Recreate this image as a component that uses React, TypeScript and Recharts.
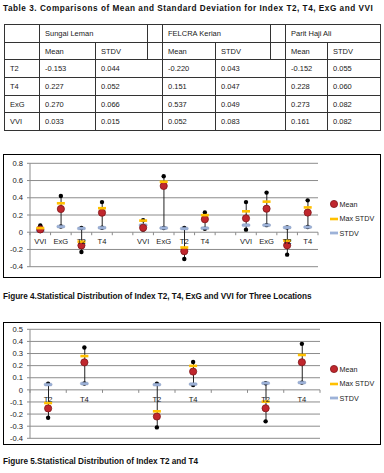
import {ComposedChart, Bar, Scatter, XAxis, YAxis, CartesianGrid, Legend} from "recharts";

const locations = ["Sungai Leman", "FELCRA Kerian", "Parit Haji Ali"];
const tableRows = ["T2", "T4", "ExG", "VVI"];
const meanSungaiLeman = [-0.153, 0.227, 0.27, 0.033];
const stdvSungaiLeman = [0.044, 0.052, 0.066, 0.015];
const meanFelcraKerian = [-0.22, 0.151, 0.537, 0.052];
const stdvFelcraKerian = [0.043, 0.047, 0.049, 0.083];
const meanParitHajiAli = [-0.152, 0.228, 0.273, 0.161];
const stdvParitHajiAli = [0.055, 0.06, 0.082, 0.082];

// figure 4: VVI, ExG, T2, T4 for each location, one empty slot between locations
const fig4Labels = ["VVI", "ExG", "T2", "T4", "", "VVI", "ExG", "T2", "T4", "", "VVI", "ExG", "T2", "T4"];
const fig4Mean = [0.033, 0.27, -0.153, 0.227, null, 0.052, 0.537, -0.22, 0.151, null, 0.161, 0.273, -0.152, 0.228];
const fig4MaxStdv = [0.048, 0.336, -0.109, 0.279, null, 0.135, 0.586, -0.177, 0.198, null, 0.243, 0.355, -0.097, 0.288];
const fig4Stdv = [0.015, 0.066, 0.044, 0.052, null, 0.083, 0.049, 0.043, 0.047, null, 0.082, 0.082, 0.055, 0.06];
const fig4High = [0.08, 0.42, 0.05, 0.35, null, 0.14, 0.65, 0.05, 0.23, null, 0.35, 0.46, 0.055, 0.37];
const fig4Low = [0.015, 0.066, -0.23, 0.052, null, 0.03, 0.049, -0.31, 0.04, null, 0.03, 0.082, -0.26, 0.06];
const fig4Ticks = [-0.4, -0.2, 0, 0.2, 0.4, 0.6, 0.8];

// figure 5: T2 and T4 only
const fig5Labels = ["T2", "T4", "", "T2", "T4", "", "T2", "T4"];
const fig5Mean = [-0.153, 0.227, null, -0.22, 0.151, null, -0.152, 0.228];
const fig5MaxStdv = [-0.109, 0.279, null, -0.177, 0.198, null, -0.097, 0.288];
const fig5Stdv = [0.044, 0.052, null, 0.043, 0.047, null, 0.055, 0.06];
const fig5High = [0.05, 0.35, null, 0.05, 0.23, null, 0.055, 0.38];
const fig5Low = [-0.23, 0.052, null, -0.31, 0.04, null, -0.26, 0.06];
const fig5Ticks = [-0.4, -0.3, -0.2, -0.1, 0, 0.1, 0.2, 0.3, 0.4, 0.5];

const FONT = "'Liberation Sans', Arial, sans-serif";
const RED = "#C0272D";
const YELLOW = "#FFC000";
const BLUE = "#9DB2D8";

const legendNames = ["Mean", "Max STDV", "STDV"];

function buildData(labels: string[], mean: any[], maxStdv: any[], stdv: any[], high: any[], low: any[]) {
  return labels.map((label, i) => ({
    slot: i,
    label: label,
    mean: mean[i],
    maxStdv: maxStdv[i],
    stdv: stdv[i],
    high: high[i],
    low: low[i],
    range: high[i] == null ? null : [low[i], high[i]],
  }));
}

function markerShape(key: string, kind: string) {
  return (p: any) => {
    if (p.payload == null || p.payload[key] == null) return <g />;
    if (kind == "mean")
      return <circle cx={p.cx} cy={p.cy} r={3.6} fill={RED} stroke="#7E1519" strokeWidth={0.8} />;
    if (kind == "dot") return <circle cx={p.cx} cy={p.cy} r={2.2} fill="#000" />;
    if (kind == "max") return <rect x={p.cx - 4} y={p.cy - 1.3} width={8} height={2.6} fill={YELLOW} />;
    return <rect x={p.cx - 4} y={p.cy - 1.4} width={8} height={2.8} rx={1.2} fill={BLUE} stroke="#7F93B8" strokeWidth={0.4} />;
  };
}

function legendIcon(name: string) {
  if (name == "Mean") return <circle cx={6} cy={5} r={3.6} fill={RED} stroke="#7E1519" strokeWidth={0.8} />;
  if (name == "Max STDV") return <rect x={2} y={3.7} width={8} height={2.6} fill={YELLOW} />;
  return <rect x={2} y={3.6} width={8} height={2.8} fill={BLUE} />;
}

function renderLegend() {
  return (
    <div style={{fontFamily: FONT, fontSize: 7.2, color: "#1a1a1a"}}>
      {legendNames.map((name) => (
        <div key={name} style={{height: 14.5, display: "flex", alignItems: "center", whiteSpace: "nowrap"}}>
          <svg width={12} height={10}>{legendIcon(name)}</svg>
          <span>{name}</span>
        </div>
      ))}
    </div>
  );
}

type ChartProps = {
  labels: string[];
  mean: any[];
  maxStdv: any[];
  stdv: any[];
  high: any[];
  low: any[];
  ticks: number[];
  width: number;
  height: number;
  xAxisHeight: number;
  margin: {top: number; right: number; bottom: number; left: number};
  legendLeft: number;
  legendTop: number;
};

function StatChart(props: ChartProps) {
  const data = buildData(props.labels, props.mean, props.maxStdv, props.stdv, props.high, props.low);
  const yMin = props.ticks[0];
  const yMax = props.ticks[props.ticks.length - 1];
  const axisWidth = 26;
  const plotH = props.height - props.margin.top - props.margin.bottom - props.xAxisHeight;
  const plotW = props.width - props.margin.left - props.margin.right - axisWidth;
  const zeroY = props.margin.top + (plotH * yMax) / (yMax - yMin);
  const band = plotW / props.labels.length;

  // category labels sit on the zero line, like the excel chart
  const categoryTick = (t: any) => {
    const label = props.labels[t.index];
    return (
      <g>
        <line x1={t.x - band / 2} x2={t.x - band / 2} y1={zeroY} y2={zeroY + 3} stroke="#8a8a8a" strokeWidth={1} />
        {t.index == props.labels.length - 1 && (
          <line x1={t.x + band / 2} x2={t.x + band / 2} y1={zeroY} y2={zeroY + 3} stroke="#8a8a8a" strokeWidth={1} />
        )}
        <text x={t.x} y={zeroY + 12} textAnchor="middle" fontSize={7.6} fontFamily={FONT} fill="#1a1a1a">
          {label}
        </text>
      </g>
    );
  };

  return (
    <ComposedChart width={props.width} height={props.height} data={data} margin={props.margin}>
      <CartesianGrid vertical={false} stroke="#8c8c8c" strokeWidth={1} />
      <XAxis dataKey="slot" height={props.xAxisHeight} axisLine={false} tickLine={false} tick={categoryTick} interval={0} />
      <YAxis
        width={axisWidth}
        domain={[yMin, yMax]}
        ticks={props.ticks}
        interval={0}
        tickSize={3}
        tickMargin={4}
        axisLine={{stroke: "#8c8c8c"}}
        tickLine={{stroke: "#8c8c8c"}}
        tick={{fontSize: 7.6, fontFamily: FONT, fill: "#1a1a1a"}}
        tickFormatter={(v: number) => String(v)}
      />
      <Legend layout="horizontal" verticalAlign="middle" align="center" content={renderLegend}
        wrapperStyle={{left: props.legendLeft, top: props.legendTop, width: 52, height: 44}} />
      <Bar dataKey="range" barSize={1} fill="#222" legendType="none" isAnimationActive={false} />
      <Scatter dataKey="high" shape={markerShape("high", "dot")} legendType="none" isAnimationActive={false} />
      <Scatter dataKey="low" shape={markerShape("low", "dot")} legendType="none" isAnimationActive={false} />
      <Scatter name="STDV" dataKey="stdv" shape={markerShape("stdv", "stdv")} isAnimationActive={false} />
      <Scatter name="Mean" dataKey="mean" shape={markerShape("mean", "mean")} isAnimationActive={false} />
      <Scatter name="Max STDV" dataKey="maxStdv" shape={markerShape("maxStdv", "max")} isAnimationActive={false} />
    </ComposedChart>
  );
}

function fmt(v: number) {
  return v.toFixed(3);
}

const cell: any = {border: "1px solid #333", padding: "0 0 0 5px", whiteSpace: "nowrap", overflow: "hidden"};

function StatsTable() {
  const means = [meanSungaiLeman, meanFelcraKerian, meanParitHajiAli];
  const stdvs = [stdvSungaiLeman, stdvFelcraKerian, stdvParitHajiAli];
  const colWidths = [35, 56, 52, 15, 53, 55, 15, 42, 53];
  return (
    <table
      style={{
        position: "absolute", left: 4, top: 24, width: 376, borderCollapse: "collapse",
        tableLayout: "fixed", fontFamily: FONT, fontSize: 7.5, color: "#1a1a1a",
      }}
    >
      <colgroup>
        {colWidths.map((w, i) => <col key={i} style={{width: w}} />)}
      </colgroup>
      <tbody>
        <tr style={{height: 17.7}}>
          <td style={cell}></td>
          <td style={cell} colSpan={2}>{locations[0]}</td>
          <td style={cell}></td>
          <td style={cell} colSpan={2}>{locations[1]}</td>
          <td style={cell}></td>
          <td style={cell} colSpan={2}>{locations[2]}</td>
        </tr>
        <tr style={{height: 17.7}}>
          <td style={cell}></td>
          <td style={cell}>Mean</td>
          <td style={cell}>STDV</td>
          <td style={cell}></td>
          <td style={cell}>Mean</td>
          <td style={cell}>STDV</td>
          <td style={cell}></td>
          <td style={cell}>Mean</td>
          <td style={cell}>STDV</td>
        </tr>
        {tableRows.map((name, r) => (
          <tr key={name} style={{height: 17.7}}>
            <td style={cell}>{name}</td>
            <td style={cell}>{fmt(means[0][r])}</td>
            <td style={cell} colSpan={2}>{fmt(stdvs[0][r])}</td>
            <td style={cell}>{fmt(means[1][r])}</td>
            <td style={cell} colSpan={2}>{fmt(stdvs[1][r])}</td>
            <td style={cell}>{fmt(means[2][r])}</td>
            <td style={cell}>{fmt(stdvs[2][r])}</td>
          </tr>
        ))}
      </tbody>
    </table>
  );
}

const caption: any = {position: "absolute", left: 3, fontFamily: FONT, fontWeight: "bold", fontSize: 8.2, height: 12, lineHeight: "12px", whiteSpace: "nowrap", color: "#111"};

export default function App() {
  return (
    <div style={{position: "absolute", left: 0, top: 0, width: 384, height: 473, background: "#fff", overflow: "hidden"}}>
      <div style={{...caption, top: 3, letterSpacing: 0.53}}>Table 3. Comparisons of Mean and Standard Deviation for Index T2, T4, ExG and VVI</div>
      <StatsTable />
      <div style={{position: "absolute", left: 3, top: 154, width: 378, height: 124, border: "1px solid #000", boxSizing: "border-box"}}>
        <StatChart
          labels={fig4Labels} mean={fig4Mean} maxStdv={fig4MaxStdv} stdv={fig4Stdv} high={fig4High} low={fig4Low}
          ticks={fig4Ticks} width={376} height={122} xAxisHeight={10} margin={{top: 8.3, right: 62, bottom: 0.3, left: 0}}
          legendLeft={323.5} legendTop={42.2}
        />
      </div>
      <div style={{...caption, top: 291, letterSpacing: -0.05}}>Figure 4.Statistical Distribution of Index T2, T4, ExG and VVI for Three Locations</div>
      <div style={{position: "absolute", left: 3, top: 322, width: 378, height: 123, border: "1px solid #000", boxSizing: "border-box"}}>
        <StatChart
          labels={fig5Labels} mean={fig5Mean} maxStdv={fig5MaxStdv} stdv={fig5Stdv} high={fig5High} low={fig5Low}
          ticks={fig5Ticks} width={376} height={121} xAxisHeight={5} margin={{top: 6.3, right: 60, bottom: 0.7, left: 0}}
          legendLeft={323.5} legendTop={39}
        />
      </div>
      <div style={{...caption, top: 456}}>Figure 5.Statistical Distribution of Index T2 and T4</div>
    </div>
  );
}
